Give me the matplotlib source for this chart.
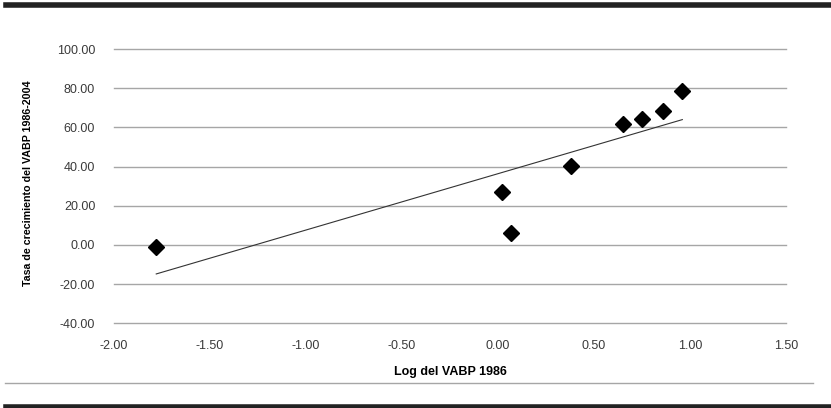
import numpy as np
import matplotlib
matplotlib.use("Agg")
import matplotlib.pyplot as plt
from matplotlib.lines import Line2D

# datos
log_vabp = [-1.78, 0.02, 0.07, 0.38, 0.65, 0.75, 0.86, 0.96]
tasa = [-1.0, 27.2, 6.0, 40.3, 61.9, 64.2, 68.4, 78.8]
xticks = [-2.0, -1.5, -1.0, -0.5, 0.0, 0.5, 1.0, 1.5]
yticks = [-40, -20, 0, 20, 40, 60, 80, 100]

plt.rcParams['font.family'] = ['Liberation Sans', 'DejaVu Sans']

fig = plt.figure(figsize=(8.31, 4.08), dpi=100)
ax = fig.add_axes([114/831, 1-323.3/408, (786-114)/831, (323.3-49)/408])

# lineas horizontales del grafico
ax.set_xlim(-2.0, 1.5)
ax.set_ylim(-40, 100)
ax.set_xticks(xticks)
ax.set_yticks(yticks)
ax.set_xticklabels(['%.2f' % v for v in xticks])
ax.set_yticklabels(['%.2f' % v for v in yticks])
ax.grid(axis='y', color='#a6a6a6', linewidth=1)
for gl in ax.get_ygridlines():
    gl.set_clip_on(False)
ax.set_axisbelow(True)
for s in ax.spines.values():
    s.set_visible(False)
ax.tick_params(length=0, labelsize=9, colors='#3a3a3a')
ax.tick_params(axis='y', pad=13.5)
ax.tick_params(axis='x', pad=12)

# tendencia lineal
m, b = np.polyfit(log_vabp, tasa, 1)
xl = np.array([min(log_vabp), max(log_vabp)])
ax.plot(xl, m*xl + b, color='#333333', linewidth=0.8)

ax.plot(log_vabp, tasa, linestyle='none', marker='D', markersize=8,
        color='black', clip_on=False)

ax.set_xlabel('Log del VABP 1986', fontsize=9, fontweight='bold')
ax.xaxis.set_label_coords((450-114)/672, 1-(366-49)/274.3)
ax.set_ylabel('Tasa de crecimiento del VABP 1986-2004', fontsize=7.7,
              fontweight='bold')
ax.yaxis.set_label_coords((33-114)/672, 0.51)

# marco del documento
fig.add_artist(Line2D([6/831, 1], [1-4.5/408, 1-4.5/408], color='#222222', linewidth=4))
fig.add_artist(Line2D([5/831, 813/831], [1-383/408, 1-383/408], color='#a6a6a6', linewidth=1))
fig.add_artist(Line2D([6/831, 1], [1-406.5/408, 1-406.5/408], color='#222222', linewidth=4))

fig.savefig('out.png', dpi=100)
